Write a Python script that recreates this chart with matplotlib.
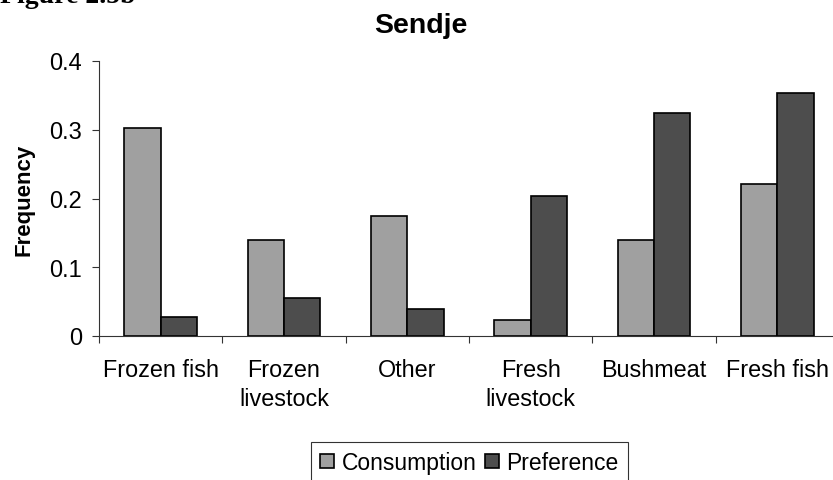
import matplotlib
matplotlib.use("Agg")
import matplotlib.pyplot as plt
import numpy as np

categories = ["Frozen fish", "Frozen\nlivestock", "Other", "Fresh\nlivestock", "Bushmeat", "Fresh fish"]
consumption = [0.303, 0.140, 0.174, 0.024, 0.140, 0.221]
preference = [0.028, 0.056, 0.040, 0.204, 0.324, 0.353]
y_ticks = [0, 0.1, 0.2, 0.3, 0.4]
y_tick_labels = ["0", "0.1", "0.2", "0.3", "0.4"]

plt.rcParams['font.family'] = ['Liberation Sans', 'DejaVu Sans']

W, H = 833, 481
fig = plt.figure(figsize=(W / 100, H / 100), dpi=100)
ax_left, ax_right, ax_top, ax_bottom = 99, 839, 62, 337
ax = fig.add_axes([ax_left / W, 1 - ax_bottom / H, (ax_right - ax_left) / W, (ax_bottom - ax_top) / H])

x = np.arange(len(categories)) + 0.5
bw = 0.294
ax.bar(x - bw / 2, consumption, bw, color="#a0a0a0", edgecolor="black", linewidth=1.2, label="Consumption")
ax.bar(x + bw / 2, preference, bw, color="#4d4d4d", edgecolor="black", linewidth=1.2, label="Preference")

ax.set_xlim(0, len(categories))
ax.set_ylim(0, 0.4)
ax.set_yticks(y_ticks)
ax.set_yticklabels(y_tick_labels)
ax.set_xticks(np.arange(len(categories) + 1))
ax.set_xticklabels([])
ax.set_xticks(x, minor=True)
ax.set_xticklabels(categories, minor=True, fontsize=16.8, linespacing=1.3)
ax.tick_params(axis='x', which='minor', length=0, pad=16)
ax.tick_params(axis='x', which='major', length=5, width=0.8, direction='out', color='#333333')
ax.tick_params(axis='y', length=5, width=0.8, direction='out', labelsize=17, pad=7, color='#333333')

for s in ["top", "right"]:
    ax.spines[s].set_visible(False)
for s in ["left", "bottom"]:
    ax.spines[s].set_linewidth(0.8)
    ax.spines[s].set_color('#333333')

ax.set_ylabel("Frequency", fontsize=16, fontweight="bold")
ax.yaxis.set_label_coords(-(99 - 34) / (ax_right - ax_left), 0.5)

fig.text(420.5 / W, 1 - 33 / H, "Sendje", fontsize=20.5, fontweight="bold", ha="center", va="baseline")
fig.text(0 / W, 1 - 3 / H, "Figure 2.5b", fontsize=20, fontweight="bold", ha="left", va="baseline",
         family=["Liberation Serif", "DejaVu Serif"])

leg = fig.legend(loc="upper center", bbox_to_anchor=(469.5 / W, 1 - 443 / H), ncol=2, fontsize=16.5,
                 frameon=True, fancybox=False, edgecolor="black", handlelength=0.6, handleheight=0.6,
                 handletextpad=0.35, columnspacing=0.35, borderpad=0.4, borderaxespad=0)
leg.get_frame().set_linewidth(0.8)

fig.savefig("out.png", dpi=100)
